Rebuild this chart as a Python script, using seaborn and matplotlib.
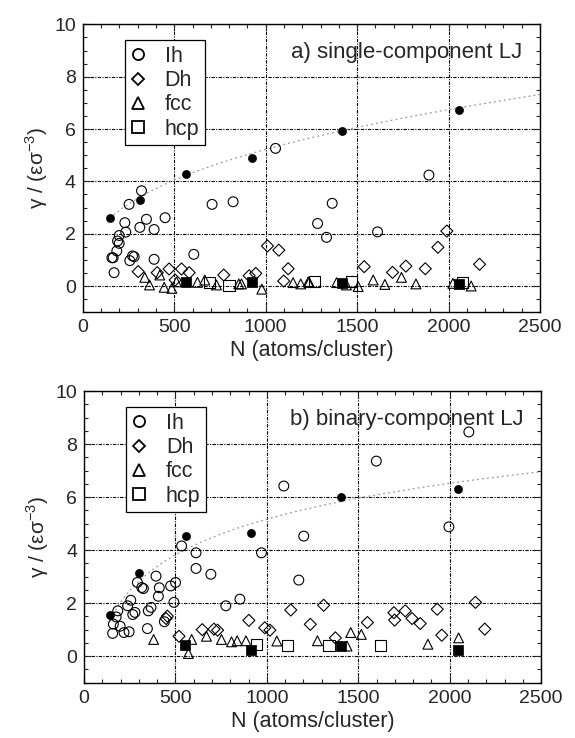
import numpy as np
import pandas as pd
import matplotlib
matplotlib.use("Agg")
import matplotlib.pyplot as plt
from matplotlib.lines import Line2D
from matplotlib.ticker import MultipleLocator
import seaborn as sns

# %% Data

# panel a) single-component LJ
a_ih_n = [1054, 1893, 321, 253, 707, 822, 348, 450, 230, 312, 390, 235, 199, 190, 199,
          186, 159, 166, 272, 281, 257, 390, 607, 171, 1284, 1364, 1333, 1612]
a_ih_y = [5.26, 4.24, 3.64, 3.12, 3.12, 3.22, 2.55, 2.61, 2.42, 2.24, 2.16, 2.06, 1.93, 1.72, 1.63,
          1.34, 1.08, 1.08, 1.15, 1.12, 0.97, 1.02, 1.21, 0.51, 2.39, 3.16, 1.86, 2.07]
a_dh_n = [303, 407, 472, 540, 582, 505, 771, 910, 946, 1010, 1072, 1123, 1099,
          1539, 1694, 1767, 1873, 1942, 1991, 2170]
a_dh_y = [0.55, 0.51, 0.65, 0.65, 0.51, 0.23, 0.42, 0.39, 0.48, 1.53, 1.37, 0.66, 0.19,
          0.74, 0.52, 0.76, 0.66, 1.48, 2.10, 0.83]
a_fcc_n = [339, 365, 421, 445, 487, 512, 627, 667, 731, 853, 868, 979, 1150, 1192, 1238,
           1233, 1388, 1442, 1506, 1588, 1652, 1743, 1822, 2024, 2124]
a_fcc_y = [0.33, 0.04, 0.42, -0.05, -0.09, 0.16, 0.14, 0.23, 0.04, 0.08, 0.08, -0.12, 0.13, 0.08, 0.14,
           0.16, 0.13, 0.04, -0.02, 0.23, 0.06, 0.33, 0.08, 0.10, 0.0]
a_hcp_n = [695, 800, 1269, 1470, 2075]
a_hcp_y = [0.13, 0.01, 0.16, 0.16, 0.14]
a_ih_best_n = [148, 312, 563, 923, 1415, 2058]
a_ih_best_y = [2.61, 3.28, 4.27, 4.90, 5.92, 6.72]
a_hcp_best_n = [563, 924, 1415, 2057]
a_hcp_best_y = [0.15, 0.15, 0.13, 0.06]

# panel b) binary-component LJ
b_ih_n = [1093, 1202, 534, 613, 971, 2105, 1599, 1996, 613, 694, 1175, 292, 316, 325, 394, 412,
          407, 474, 501, 492, 256, 239, 279, 267, 185, 176, 161, 198, 157, 219, 247, 352, 367,
          440, 347, 776, 853]
b_ih_y = [6.42, 4.53, 4.16, 3.90, 3.90, 8.46, 7.36, 4.88, 3.31, 3.09, 2.87, 2.78, 2.59, 2.55, 3.02, 2.58,
          2.26, 2.65, 2.78, 2.03, 2.11, 1.90, 1.65, 1.57, 1.71, 1.48, 1.21, 1.13, 0.86, 0.89, 0.92, 1.71, 1.84,
          1.30, 1.04, 1.90, 2.15]
b_dh_n = [456, 449, 520, 647, 711, 731, 902, 989, 1017, 1131, 1238, 1311, 1375, 1550, 1695,
          1699, 1757, 1794, 1839, 1932, 1957, 2141, 2192]
b_dh_y = [1.51, 1.42, 0.75, 1.00, 1.02, 0.98, 1.35, 1.07, 0.98, 1.74, 1.20, 1.92, 0.69, 1.27, 1.64,
          1.36, 1.71, 1.42, 1.23, 1.77, 0.79, 2.03, 1.02]
b_fcc_n = [381, 571, 589, 670, 752, 807, 838, 886, 1055, 1277, 1439, 1459, 1517, 1881, 2049]
b_fcc_y = [0.63, 0.10, 0.63, 0.75, 0.63, 0.54, 0.58, 0.58, 0.57, 0.58, 0.38, 0.89, 0.82, 0.45, 0.69]
b_hcp_n = [944, 1113, 1340, 1621]
b_hcp_y = [0.44, 0.40, 0.39, 0.41]
b_ih_best_n = [145, 303, 556, 915, 1404, 2045]
b_ih_best_y = [1.57, 3.14, 4.54, 4.63, 6.01, 6.29]
b_hcp_best_n = [552, 913, 1404, 2045]
b_hcp_best_y = [0.41, 0.25, 0.38, 0.25]

# dotted guide curves (coefficients)
a_fit = (0.411, 0.368)    # y = a * N**b
b_fit = (1.95, -8.30)     # y = a * ln(N) + b

panel_titles = ["a) single-component LJ", "b) binary-component LJ"]

# %% Plot

sns.set_theme(style="ticks")
plt.rcParams["font.family"] = ["Liberation Sans", "DejaVu Sans"]
plt.rcParams["mathtext.fontset"] = "custom"
plt.rcParams["mathtext.rm"] = "Liberation Sans"

fig = plt.figure(figsize=(5.75, 7.38), dpi=100)
ax_a = fig.add_axes([0.144, 0.577, 0.795, 0.390])
ax_b = fig.add_axes([0.146, 0.075, 0.795, 0.395])

grid_style = dict(color="black", linewidth=0.8, linestyle=(0, (3, 1.2, 1, 1.2)))
ms = 50


def draw_panel(ax, ih, dh, fcc, hcp, ih_best, hcp_best, fit_x, fit_y, title):
    open_kw = dict(facecolor="none", edgecolor="black", linewidth=0.8, s=ms, ax=ax, zorder=3)
    ax.plot(fit_x, fit_y, color="#999999", linestyle=(0, (1.5, 2.5)), linewidth=0.9, zorder=2)
    sns.scatterplot(x=ih[0], y=ih[1], marker="o", **open_kw)
    sns.scatterplot(x=dh[0], y=dh[1], marker="D", **{**open_kw, "s": ms * 0.75})
    sns.scatterplot(x=fcc[0], y=fcc[1], marker="^", **open_kw)
    sns.scatterplot(x=hcp[0], y=hcp[1], marker="s", **{**open_kw, "s": ms * 1.3})
    sns.scatterplot(x=ih_best[0], y=ih_best[1], marker="o", color="black", s=34,
                    edgecolor="black", ax=ax, zorder=4)
    sns.scatterplot(x=hcp_best[0], y=hcp_best[1], marker="s", color="black", s=42,
                    edgecolor="black", ax=ax, zorder=4)

    ax.set_xlim(0, 2500)
    ax.set_ylim(-1, 10)
    ax.xaxis.set_major_locator(MultipleLocator(500))
    ax.xaxis.set_minor_locator(MultipleLocator(100))
    ax.yaxis.set_major_locator(MultipleLocator(2))
    ax.yaxis.set_minor_locator(MultipleLocator(0.5))
    ax.tick_params(which="both", direction="in", top=True, right=True, labelsize=14, width=0.8)
    ax.tick_params(which="major", length=5, pad=5)
    ax.tick_params(which="minor", length=3)
    ax.grid(True, which="major", **grid_style)
    for sp in ax.spines.values():
        sp.set_linewidth(1.0)
        sp.set_color("black")
    ax.set_xlabel("N (atoms/cluster)", fontsize=15.5, labelpad=3)
    ax.set_ylabel("γ / (εσ$^{-3}$)", fontsize=15, labelpad=3)
    ax.text(0.961, 0.903, title, transform=ax.transAxes, ha="right", va="center", fontsize=16)

    handles = [
        Line2D([], [], marker="o", linestyle="none", markerfacecolor="none", markeredgecolor="black",
               markersize=8, markeredgewidth=1.3),
        Line2D([], [], marker="D", linestyle="none", markerfacecolor="none", markeredgecolor="black",
               markersize=6.5, markeredgewidth=1.3),
        Line2D([], [], marker="^", linestyle="none", markerfacecolor="none", markeredgecolor="black",
               markersize=8, markeredgewidth=1.3),
        Line2D([], [], marker="s", linestyle="none", markerfacecolor="none", markeredgecolor="black",
               markersize=8, markeredgewidth=1.3),
    ]
    leg = ax.legend(handles, ["Ih", "Dh", "fcc", "hcp"], loc="upper left",
                    bbox_to_anchor=(0.092, 0.944), borderaxespad=0, fontsize=15.5, frameon=True,
                    fancybox=False, edgecolor="black", framealpha=1, handletextpad=0.9,
                    labelspacing=0.15, borderpad=0.25, handlelength=0.7)
    leg.get_frame().set_linewidth(0.9)
    leg.set_zorder(5)


n_a = np.linspace(a_ih_best_n[0], 2500, 200)
draw_panel(ax_a, (a_ih_n, a_ih_y), (a_dh_n, a_dh_y), (a_fcc_n, a_fcc_y), (a_hcp_n, a_hcp_y),
           (a_ih_best_n, a_ih_best_y), (a_hcp_best_n, a_hcp_best_y),
           n_a, a_fit[0] * n_a ** a_fit[1], panel_titles[0])

n_b = np.linspace(b_ih_best_n[0], 2500, 200)
draw_panel(ax_b, (b_ih_n, b_ih_y), (b_dh_n, b_dh_y), (b_fcc_n, b_fcc_y), (b_hcp_n, b_hcp_y),
           (b_ih_best_n, b_ih_best_y), (b_hcp_best_n, b_hcp_best_y),
           n_b, b_fit[0] * np.log(n_b) + b_fit[1], panel_titles[1])

fig.savefig("out.png", dpi=100)
